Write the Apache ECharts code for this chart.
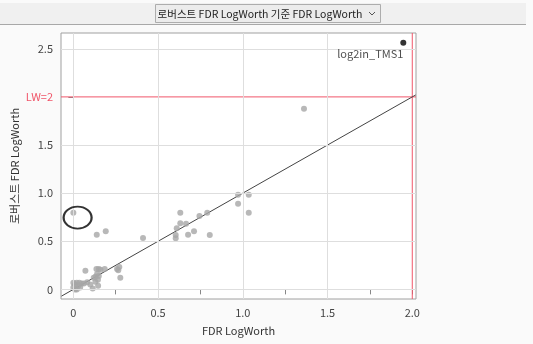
<!DOCTYPE html>
<html><head><meta charset="utf-8">
<script src="https://cdn.jsdelivr.net/npm/echarts@6/dist/echarts.min.js"></script>
<style>html,body{margin:0;padding:0;background:#fafafa;}#c{width:533px;height:344px;}</style>
</head><body><div id="c"></div>
<script>
const titleText = '로버스트 FDR LogWorth 기준 FDR LogWorth';
const xName = 'FDR LogWorth';
const yName = '로버스트 FDR LogWorth';
const xTicks = [0, 0.25, 0.5, 0.75, 1, 1.25, 1.5, 1.75, 2];
const xLabels = [0, 0.5, 1, 1.5, 2];
const yLabels = [0, 0.5, 1, 1.5, 2, 2.5];
const xGrid = [0, 0.5, 1, 1.5];
const yGrid = [0, 0.5, 1, 1.5, 2.5];
const lwX = 2, lwY = 2;
const grayPoints = [
  [0.0,0.796],[0.138,0.568],[0.191,0.603],[0.411,0.533],[0.631,0.796],[0.631,0.686],[0.665,0.682],
  [0.61,0.634],[0.604,0.564],[0.604,0.53],[0.677,0.568],[0.712,0.603],[0.744,0.762],[0.79,0.796],
  [0.805,0.564],[0.972,0.983],[0.972,0.89],[1.035,0.983],[1.035,0.796],[1.361,1.876],
  [0.071,0.193],[0.136,0.211],[0.15,0.211],[0.16,0.205],[0.185,0.211],[0.258,0.211],[0.271,0.232],
  [0.277,0.121],[0.265,0.2],[0.14,0.16],[0.13,0.13],[0.12,0.12],[0.13,0.08],[0.114,0.01],
  [0.146,0.037],[0.1,0.05],[0.081,0.073],[0.062,0.06],[0.145,0.1],[0.15,0.14],[0.0,0.02],
  [0.01,0.05],[0.02,0.07],[0.03,0.04],[0.04,0.02],[0.0,0.07],[0.02,0.0],[0.05,0.06],[0.035,0.07],[0.01,0.0]
];
const highlightPoint = [[1.947,2.563]];
const highlightLabel = 'log2in_TMS1';
const diagonal = [[-0.07,-0.07],[2.02,2.02]];
const circled = [[0.025,0.746]];
const xMin = -0.073, xMax = 2.022, yMin = -0.1, yMax = 2.664;

const font = '"Noto Sans CJK KR", "Noto Sans", sans-serif';
const chart = echarts.init(document.getElementById('c'));
const fmt = v => v === 0 ? '0' : v.toFixed(1);
chart.setOption({
  backgroundColor: '#fafafa',
  animation: false,
  textStyle: {fontFamily: font},
  graphic: [
    {type:'rect', shape:{x:0,y:3,width:526,height:21}, style:{fill:'#f0f0f0'}, z:0},
    {type:'line', shape:{x1:0,y1:24.5,x2:526,y2:24.5}, style:{stroke:'#a8a8a8',lineWidth:1}},
    {type:'rect', shape:{x:155.5,y:4.5,width:225,height:18}, style:{fill:'#ececec',stroke:'#adadad',lineWidth:1}},
    {type:'text', x:260, y:14, style:{text:titleText, font:'10.5px '+font, fill:'#222', align:'center', verticalAlign:'middle'}},
    {type:'polyline', shape:{points:[[369,12],[372,15],[375,12]]}, style:{stroke:'#555', lineWidth:1, fill:null}}
  ],
  grid: {left:61, top:33, right:117, bottom:45, show:true, backgroundColor:'#ffffff', borderColor:'#a0a0a0', borderWidth:1, outerBoundsMode:'none', containLabel:false},
  xAxis: {
    type:'value', min:xMin, max:xMax,
    name:xName, nameLocation:'middle', nameGap:26, nameMoveOverlap:false,
    nameTextStyle:{fontSize:11, color:'#333', fontFamily:font},
    axisLine:{show:false},
    axisTick:{show:true, length:5, lineStyle:{color:'#888'}, customValues:xTicks},
    axisLabel:{customValues:xLabels, formatter:fmt, fontSize:11, color:'#444', margin:8},
    splitLine:{show:false}
  },
  yAxis: {
    type:'value', min:yMin, max:yMax,
    name:yName, nameLocation:'middle', nameGap:41, nameMoveOverlap:false,
    nameTextStyle:{fontSize:11, color:'#333', fontFamily:font},
    axisLine:{show:false},
    axisTick:{show:true, length:5, lineStyle:{color:'#888'}, customValues:yLabels},
    axisLabel:{customValues:yLabels, fontSize:11, margin:8,
      formatter: v => v === lwY ? '{r|LW=2}' : fmt(v),
      color:'#444', rich:{r:{color:'#f0566a', fontSize:11}}},
    splitLine:{show:false}
  },
  series: [
    {type:'line', data:[], silent:true,
      markLine:{silent:true, symbol:'none', label:{show:false}, animation:false,
        lineStyle:{color:'#dedede', width:1, type:'solid'},
        data: xGrid.map(v=>({xAxis:v})).concat(yGrid.map(v=>({yAxis:v})))}},
    {type:'line', data:[[xMin,lwY],[xMax,lwY]], showSymbol:false, silent:true,
      lineStyle:{color:'#f0566a', width:1}, itemStyle:{color:'#f0566a'}, z:2},
    {type:'line', data:[[lwX,yMin],[lwX,yMax]], showSymbol:false, silent:true,
      lineStyle:{color:'#f0566a', width:1}, itemStyle:{color:'#f0566a'}, z:2},
    {type:'line', data:diagonal, showSymbol:false, clip:true, silent:true,
      lineStyle:{color:'#444', width:1}, z:3},
    {type:'scatter', data:grayPoints, symbolSize:6, itemStyle:{color:'#a6a6a6'}, z:4},
    {type:'scatter', data:highlightPoint, symbolSize:6, itemStyle:{color:'#000'}, z:5,
      label:{show:true, formatter:highlightLabel, position:'bottom', distance:3, offset:[-33,0],
        fontSize:11, color:'#222', fontFamily:font}},
    {type:'scatter', data:circled, symbol:'circle', symbolSize:[28,22], z:6,
      itemStyle:{color:'none', borderColor:'#000', borderWidth:2}}
  ]
});
</script></body></html>
